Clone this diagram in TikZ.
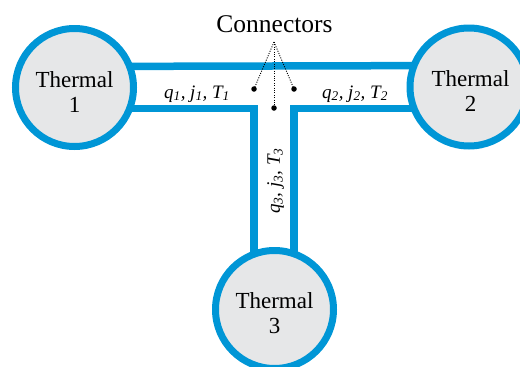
\documentclass[tikz,border=0pt]{standalone}
\usepackage{fontspec}
\setmainfont{Liberation Serif}
\usetikzlibrary{calc}
\definecolor{pipeblue}{HTML}{0096D6}
\definecolor{tankgray}{HTML}{E6E7E8}
\tikzset{
  tank/.style={circle, draw=pipeblue, fill=tankgray, line width=7pt,
    minimum size=118pt, inner sep=0pt},
  tanktext/.style={inner sep=0pt, align=center, font=\fontsize{23}{25}\selectfont},
  pipe/.style={draw=pipeblue, line width=7.5pt, miter limit=10},
  flowlabel/.style={inner sep=0pt, anchor=base, font=\fontsize{19}{21}\selectfont\itshape},
  portdot/.style={circle, fill=black, inner sep=0pt, minimum size=5.5pt},
  leader/.style={line width=0.9pt, dash pattern=on 1pt off 1.4pt}
}
\begin{document}
\begin{tikzpicture}[x=1pt, y=-1pt]
\useasboundingbox (0,0) rectangle (520,367);

% tank centres
\coordinate (c1) at (74.5,87.5);
\coordinate (c2) at (469,87);
\coordinate (c3) at (274.5,309.5);

% T-shaped pipe walls
\coordinate (jl) at (254,108.5);
\coordinate (jr) at (294,108.5);
\draw[pipe] ($(c1)+(0,-21)$) -- ($(c2)+(0,-21.5)$);
\draw[pipe] ($(c1)+(0,21)$) -- (jl) -- (jl |- c3);
\draw[pipe] ($(c2)+(0,21.5)$) -- (jr) -- (jr |- c3);

% tanks and their names
\node[tank] (t1) at (c1) {};
\node[tank] (t2) at (c2) {};
\node[tank] (t3) at (c3) {};
\node[tanktext] (n1) at ($(t1.center)+(0,4.5)$) {Thermal\\1};
\node[tanktext] (n2) at ($(t2.center)+(1.5,4.5)$) {Thermal\\2};
\node[tanktext] (n3) at ($(t3.center)+(0,3.5)$) {Thermal\\3};

% flow variables in each branch
\node[flowlabel] (l1) at (197,98) {q\textsubscript{1}, j\textsubscript{1}, T\textsubscript{1}};
\node[flowlabel] (l2) at (355,98) {q\textsubscript{2}, j\textsubscript{2}, T\textsubscript{2}};
\node[flowlabel, anchor=center, rotate=90] (l3) at (275.5,181) {q\textsubscript{3}, j\textsubscript{3}, T\textsubscript{3}};

% connector ports and their callout
\node[portdot] (d1) at (254,89) {};
\node[portdot] (d2) at (294,89) {};
\node[portdot] (d3) at (274,108) {};
\coordinate (apex) at (274,42);
\draw[leader] (apex) -- (d1.center);
\draw[leader] (apex) -- (d2.center);
\draw[leader] (apex) -- (d3.center);
\node[anchor=base, inner sep=0pt, font=\fontsize{25.5}{28}\selectfont] (cap) at (274.5,32) {Connectors};
\end{tikzpicture}
\end{document}
